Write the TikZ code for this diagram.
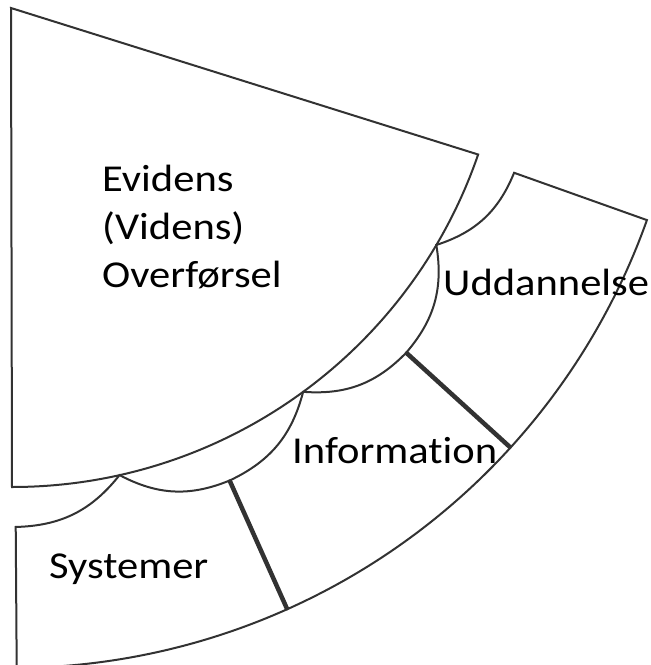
\documentclass[tikz,border=0pt]{standalone}
\usepackage{fontspec}
\newfontfamily\lblfont{Carlito}[FakeStretch=1.12,Ligatures=NoCommon]
\usetikzlibrary{calc}
\definecolor{edgegray}{RGB}{50,50,50}
\begin{document}
\begin{tikzpicture}[x=1pt,y=1pt,
    rim/.style={draw=edgegray,line width=2pt,line join=miter},
    divider/.style={draw=edgegray,line width=4.5pt},
    lbl/.style={font=\lblfont\fontsize{38}{48}\selectfont,inner sep=0pt,anchor=base west}]
  \useasboundingbox (0,0) rectangle (651,-665);
  \coordinate (O) at (12,6);
  \draw[rim] (11,-8) -- ($(O)+(-19:493)$) arc[start angle=-19,end angle=-90,radius=493] -- cycle;
  \foreach \a/\m/\b in {-89.6/-77.4/-65.9, -65.9/-53.8/-42.3, -42.3/-30.6/-19.6}
    \draw[rim] ($(O)+(\a:533)$) to[bend right=25] ($(O)+(\m:493)$)
      to[bend right=25] ($(O)+(\b:533)$) -- ($(O)+(\b:674)$)
      arc[start angle=\b,end angle=\a,radius=674] -- cycle;
  \draw[divider] ($(O)+(-65.9:533)$) -- ($(O)+(-65.9:674)$);
  \draw[divider] ($(O)+(-42.3:533)$) -- ($(O)+(-42.3:674)$);
  \node[lbl,align=left,anchor=north west] (evid) at (102,-165) {Evidens\\(Videns)\\Overførsel};
  \node[lbl] (sys) at (49,-578) {Systemer};
  \node[lbl] (info) at (292,-463) {Information};
  \node[lbl] (udd) at (443,-295) {Uddannelse};
\end{tikzpicture}
\end{document}
